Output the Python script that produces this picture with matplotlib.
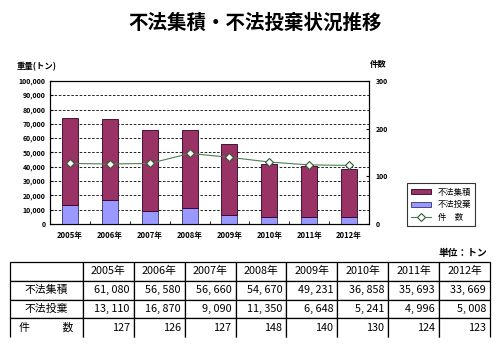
import numpy as np
import matplotlib.pyplot as plt

plt.rcParams['font.family'] = ['Noto Sans CJK JP', 'DejaVu Sans']

years = ['2005年', '2006年', '2007年', '2008年', '2009年', '2010年', '2011年', '2012年']
shuseki = [61080, 56580, 56660, 54670, 49231, 36858, 35693, 33669]
toki = [13110, 16870, 9090, 11350, 6648, 5241, 4996, 5008]
kensu = [127, 126, 127, 148, 140, 130, 124, 123]

fig = plt.figure(figsize=(5, 3.53), dpi=100)
fig.text(0.51, 0.935, '不法集積・不法投棄状況推移', ha='center', va='center',
         fontsize=14, fontweight='bold')

ax = fig.add_axes([0.1, 0.365, 0.638, 0.406])
x = np.arange(len(years))
ax.bar(x, toki, width=0.4, color='#9999FF', edgecolor='#333366', linewidth=0.6,
       label='不法投棄', zorder=3)
ax.bar(x, shuseki, width=0.4, bottom=toki, color='#993366', edgecolor='#330022',
       linewidth=0.6, label='不法集積', zorder=3)
ax.set_xlim(-0.5, 7.5)
ax.set_ylim(0, 100000)
ax.set_yticks(np.arange(0, 100001, 10000))
ax.set_yticklabels(['{:,}'.format(v) for v in range(0, 100001, 10000)],
                   fontsize=5, fontweight='bold')
ax.set_xticks(x)
ax.set_xticklabels(years, fontsize=5.5, fontweight='bold')
ax.set_xticks(np.arange(-0.5, 8, 1), minor=True)
ax.tick_params(axis='x', which='major', length=0, pad=5)
ax.tick_params(axis='x', which='minor', length=2, direction='in')
ax.tick_params(axis='y', length=2, direction='in', pad=3)
ax.grid(axis='y', color='black', linestyle=(0, (3, 2)), linewidth=0.6, zorder=0)
for s in ax.spines.values():
    s.set_linewidth(0.8)

ax2 = ax.twinx()
ax2.plot(x, kensu, color='#4E7F4E', linewidth=0.8, marker='D', markersize=4,
         markerfacecolor='white', markeredgecolor='#2E5E2E', markeredgewidth=0.8,
         label='件　数', zorder=4)
ax2.set_ylim(0, 300)
ax2.set_yticks([0, 100, 200, 300])
ax2.set_yticklabels(['0', '100', '200', '300'], fontsize=5, fontweight='bold')
ax2.tick_params(axis='y', length=2, direction='in', pad=5)

fig.text(0.033, 0.81, '重量(トン)', fontsize=6, fontweight='bold', va='center')
fig.text(0.74, 0.818, '件数', fontsize=6, fontweight='bold', va='center')

h1, l1 = ax.get_legend_handles_labels()
h2, l2 = ax2.get_legend_handles_labels()
leg = fig.legend([h1[1], h1[0], h2[0]], [l1[1], l1[0], l2[0]],
                 loc='upper left', bbox_to_anchor=(0.805, 0.492), fontsize=6,
                 frameon=True, fancybox=False, edgecolor='black',
                 handlelength=2.4, handleheight=0.5, labelspacing=0.45,
                 borderpad=0.5)
leg.get_frame().set_linewidth(0.8)

fig.text(0.974, 0.283, '単位：トン', ha='right', va='center', fontsize=7,
         fontweight='bold')

tax = fig.add_axes([0.02, 0.045, 0.96, 0.213])
tax.axis('off')
rows = ['不法集積', '不法投棄', '件　　　数']
cells = [[''] + years,
         [rows[0]] + ['{:,}'.format(v).replace(',', ', ') for v in shuseki],
         [rows[1]] + ['{:,}'.format(v).replace(',', ', ') for v in toki],
         [rows[2]] + [str(v) for v in kensu]]
col_w = [73] + [50.9] * 8
tbl = tax.table(cellText=cells, colWidths=[w / sum(col_w) for w in col_w],
                bbox=[0, 0, 1, 1], cellLoc='right')
tbl.auto_set_font_size(False)
for (r, c), cell in tbl.get_celld().items():
    cell.set_linewidth(0.9)
    cell.set_text_props(fontsize=7.8)
    if r == 3:
        cell.visible_edges = 'LRT'
    if r == 0 or c == 0:
        cell.set_text_props(ha='center')
        cell._loc = 'center'
    else:
        cell._loc = 'right'
        cell.PAD = 0.08

fig.savefig('out.png', dpi=100)
